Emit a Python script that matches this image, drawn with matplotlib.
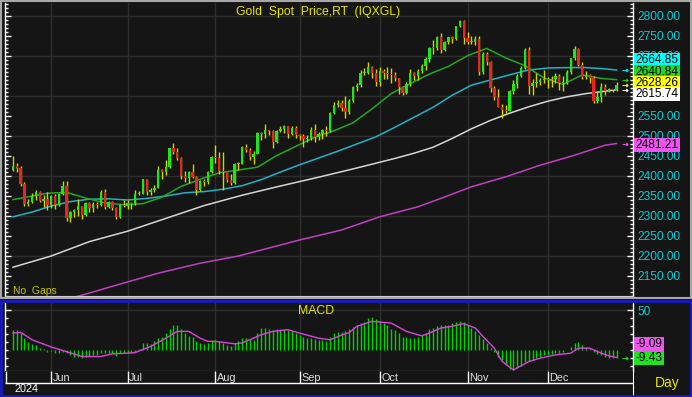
import numpy as np
import pandas as pd
import matplotlib
matplotlib.use("Agg")
import matplotlib.pyplot as plt
from matplotlib.patches import Rectangle
from matplotlib.ticker import MultipleLocator, FixedLocator, FormatStrFormatter

plt.rcParams['font.family'] = ['Liberation Sans', 'DejaVu Sans']

# daily OHLC, gold spot, 20 May 2024 onwards (one bar per weekday)
opens = [
    2415, 2426, 2421, 2379, 2329, 2334, 2351, 2361, 2338, 2343,
    2327, 2350, 2327, 2355, 2376, 2294, 2311, 2316, 2324, 2303,
    2333, 2319, 2330, 2328, 2360, 2322, 2334, 2319, 2298, 2327,
    2326, 2332, 2330, 2356, 2356, 2392, 2359, 2364, 2371, 2414,
    2411, 2422, 2469, 2459, 2445, 2400, 2396, 2409, 2397, 2364,
    2387, 2384, 2411, 2448, 2446, 2412, 2409, 2390, 2382, 2430,
    2431, 2472, 2465, 2447, 2456, 2507, 2504, 2514, 2512, 2485,
    2512, 2518, 2524, 2504, 2520, 2503, 2500, 2493, 2495, 2516,
    2497, 2506, 2516, 2512, 2558, 2578, 2582, 2569, 2559, 2587,
    2622, 2628, 2657, 2657, 2672, 2658, 2634, 2662, 2657, 2656,
    2653, 2644, 2622, 2608, 2630, 2657, 2649, 2662, 2674, 2693,
    2721, 2720, 2748, 2715, 2736, 2747, 2743, 2774, 2788, 2744,
    2736, 2736, 2743, 2659, 2706, 2685, 2619, 2598, 2573, 2566,
    2562, 2612, 2631, 2651, 2670, 2716, 2626, 2633, 2636, 2640,
    2643, 2639, 2643, 2650, 2632, 2633, 2660, 2694, 2718, 2677,
    2648, 2652, 2646, 2587, 2598, 2622, 2612, 2617, 2614]
highs = [
    2450, 2432, 2426, 2385, 2342, 2358, 2364, 2362, 2352, 2361,
    2353, 2355, 2357, 2388, 2388, 2313, 2318, 2342, 2326, 2335,
    2334, 2336, 2334, 2365, 2368, 2338, 2338, 2323, 2331, 2340,
    2339, 2336, 2365, 2363, 2392, 2393, 2369, 2377, 2424, 2418,
    2440, 2469, 2483, 2470, 2448, 2412, 2412, 2431, 2400, 2390,
    2393, 2413, 2451, 2477, 2460, 2461, 2410, 2405, 2432, 2436,
    2475, 2479, 2471, 2463, 2509, 2510, 2531, 2516, 2514, 2516,
    2526, 2528, 2526, 2524, 2526, 2505, 2504, 2503, 2523, 2529,
    2509, 2518, 2525, 2560, 2585, 2590, 2589, 2600, 2593, 2625,
    2632, 2664, 2670, 2685, 2675, 2668, 2673, 2667, 2672, 2670,
    2661, 2646, 2625, 2634, 2668, 2661, 2667, 2680, 2697, 2723,
    2740, 2749, 2758, 2738, 2748, 2749, 2774, 2790, 2790, 2759,
    2750, 2750, 2750, 2711, 2709, 2688, 2626, 2618, 2581, 2578,
    2615, 2639, 2656, 2674, 2721, 2722, 2642, 2657, 2645, 2665,
    2648, 2649, 2657, 2656, 2649, 2666, 2695, 2726, 2721, 2685,
    2662, 2655, 2650, 2610, 2632, 2630, 2620, 2618, 2635]
lows = [
    2412, 2410, 2374, 2326, 2326, 2333, 2339, 2334, 2323, 2315,
    2320, 2317, 2326, 2352, 2287, 2286, 2297, 2299, 2293, 2299,
    2311, 2311, 2321, 2325, 2317, 2320, 2315, 2293, 2294, 2322,
    2318, 2318, 2328, 2352, 2354, 2352, 2352, 2359, 2369, 2393,
    2402, 2419, 2454, 2441, 2392, 2385, 2382, 2394, 2353, 2363,
    2375, 2379, 2408, 2433, 2405, 2364, 2385, 2378, 2381, 2416,
    2430, 2460, 2441, 2431, 2455, 2489, 2495, 2503, 2471, 2483,
    2509, 2507, 2495, 2502, 2494, 2490, 2472, 2484, 2490, 2485,
    2491, 2492, 2500, 2510, 2554, 2573, 2562, 2546, 2555, 2586,
    2613, 2623, 2652, 2654, 2644, 2625, 2624, 2642, 2643, 2633,
    2637, 2604, 2603, 2604, 2624, 2639, 2640, 2658, 2665, 2685,
    2705, 2714, 2708, 2712, 2729, 2732, 2739, 2772, 2730, 2730,
    2731, 2727, 2652, 2656, 2677, 2610, 2589, 2572, 2545, 2557,
    2562, 2605, 2619, 2648, 2667, 2605, 2602, 2622, 2627, 2632,
    2621, 2623, 2632, 2614, 2613, 2630, 2654, 2690, 2676, 2643,
    2643, 2633, 2583, 2583, 2584, 2603, 2610, 2611, 2612]
closes = [
    2426, 2421, 2379, 2329, 2334, 2351, 2361, 2338, 2343, 2327,
    2350, 2327, 2355, 2376, 2294, 2311, 2316, 2324, 2303, 2333,
    2319, 2330, 2328, 2360, 2322, 2334, 2319, 2298, 2327, 2326,
    2332, 2330, 2356, 2356, 2392, 2359, 2364, 2371, 2414, 2411,
    2422, 2469, 2459, 2445, 2400, 2396, 2409, 2397, 2364, 2387,
    2384, 2411, 2448, 2446, 2412, 2409, 2390, 2382, 2430, 2431,
    2472, 2465, 2447, 2456, 2507, 2504, 2514, 2512, 2485, 2512,
    2518, 2524, 2504, 2520, 2503, 2500, 2493, 2495, 2516, 2497,
    2506, 2516, 2512, 2558, 2578, 2582, 2569, 2559, 2587, 2622,
    2628, 2657, 2657, 2672, 2658, 2634, 2662, 2657, 2656, 2653,
    2644, 2622, 2608, 2630, 2657, 2649, 2662, 2674, 2693, 2721,
    2720, 2748, 2715, 2736, 2747, 2743, 2774, 2788, 2744, 2736,
    2736, 2743, 2659, 2706, 2685, 2619, 2598, 2573, 2566, 2562,
    2612, 2631, 2651, 2670, 2716, 2626, 2633, 2636, 2640, 2643,
    2639, 2643, 2650, 2632, 2633, 2660, 2694, 2718, 2677, 2648,
    2652, 2646, 2587, 2598, 2622, 2612, 2617, 2614, 2628.26]

# moving averages (bar index, value)
ma20_idx = [0, 4, 9, 14, 19, 24, 29, 34, 39, 44, 49, 54, 59, 64, 69, 74, 79,
            84, 89, 94, 99, 104, 109, 114, 119, 124, 129, 134, 139, 144, 149,
            154, 158]
ma20_val = [2341, 2348, 2357, 2359, 2345, 2333, 2328, 2331, 2347, 2374, 2392,
            2408, 2415, 2422, 2451, 2474, 2497, 2513, 2533, 2568, 2606, 2631,
            2655, 2674, 2701, 2719, 2695, 2676, 2645, 2629, 2653, 2644, 2640.84]
ma50_idx = [0, 5, 10, 15, 20, 25, 30, 35, 40, 45, 50, 55, 60, 65, 70, 75, 80,
            85, 90, 95, 100, 105, 110, 115, 120, 125, 130, 135, 140, 145, 150,
            155, 158]
ma50_val = [2298, 2310, 2325, 2336, 2342, 2343, 2340, 2344, 2350, 2358, 2361,
            2367, 2376, 2391, 2410, 2428, 2445, 2462, 2480, 2498, 2522, 2547,
            2572, 2602, 2627, 2640, 2653, 2665, 2670, 2671, 2671, 2668, 2664.85]
ma100_idx = [0, 10, 20, 30, 40, 50, 60, 70, 80, 90, 100, 105, 110, 115, 120,
             125, 130, 135, 140, 145, 150, 155, 158]
ma100_val = [2172, 2200, 2236, 2262, 2294, 2326, 2352, 2375, 2397, 2420, 2444,
             2457, 2472, 2494, 2518, 2539, 2557, 2573, 2587, 2598, 2606, 2612,
             2615.74]
ma200_idx = [10, 18, 27, 38, 49, 59, 65, 75, 86, 96, 106, 112, 120, 129, 138,
             147, 155, 158]
ma200_val = [2082, 2102, 2127, 2157, 2182, 2200, 2215, 2240, 2265, 2298, 2323,
             2344, 2373, 2398, 2427, 2452, 2477, 2481.21]

# MACD histogram, one value per bar
macd = [
    25, 25, 21, 15, 10, 8, 7, 3, 1, -2,
    -1, -4, -3, -2, -4, -6, -8, -9, -10, -8,
    -7, -6, -6, -3, -4, -4, -4, -7, -4, -4,
    -4, -4, -2, 1, 9, 9, 8, 11, 15, 17,
    21, 27, 31, 31, 26, 22, 18, 17, 12, 9,
    8, 9, 13, 13, 11, 9, 7, 5, 9, 11,
    15, 15, 14, 13, 22, 28, 28, 26, 25, 26,
    27, 26, 25, 24, 22, 19, 17, 15, 15, 14,
    13, 13, 12, 17, 22, 23, 23, 24, 26, 29,
    32, 34, 36, 40, 42, 39, 37, 34, 31, 27,
    25, 21, 17, 17, 15, 15, 16, 19, 22, 26,
    28, 30, 31, 31, 32, 34, 35, 37, 35, 32,
    28, 24, 19, 14, 9, 3, -2, -8, -13, -19,
    -24, -25, -23, -20, -15, -14, -12, -10, -8, -6,
    -6, -5, -4, -3, -2, 0, 4, 9, 10, 7,
    4, 1, -2, -5, -6, -8, -10, -10, -9.43]
# signal line (bar index, value)
sig_idx = [0, 2, 5, 10, 13, 18, 23, 26, 30, 32, 36, 40, 43, 46, 49, 51, 53,
           58, 60, 65, 68, 72, 75, 80, 83, 86, 88, 90, 94, 99, 103, 107, 109,
           112, 115, 118, 121, 123, 126, 128, 131, 135, 138, 142, 146, 148,
           151, 154, 156, 158]
sig_val = [21.5, 22.3, 13, 4, -0.4, -8, -8, -4.6, -3.8, -3, 4.6, 15, 23.6,
           23.6, 15, 11, 11, 8, 9, 19.4, 23.6, 25.7, 21.5, 15, 13, 19, 22,
           29.9, 36.2, 34, 23.6, 18, 21.5, 27.8, 30, 33.3, 27.8, 17.3, 2.5,
           -14, -24.9, -14.4, -10.1, -5.9, -3.8, 2.5, 2.5, -3.8, -7.2, -9.09]

# right-axis price labels that stay uncovered by the value tags
price_labels = [2150, 2200, 2250, 2300, 2350, 2400, 2450, 2500, 2550, 2700,
                2750, 2800]

N = len(closes)
dates = pd.bdate_range("2024-05-20", periods=N)
idx = np.arange(N)
o = np.array(opens, dtype=float)
h = np.array(highs, dtype=float)
l = np.array(lows, dtype=float)
c = np.array(closes, dtype=float)

month_starts = [i for i in range(1, N) if dates[i].month != dates[i - 1].month]

BG = '#151515'
GRID = '#2e2e2e'
W, H = 692, 397
ARROW = r'$\rightarrow$'


def box(x0, y0, x1, y1):
    # pixel box -> figure fraction
    return [x0 / W, 1 - y1 / H, (x1 - x0) / W, (y1 - y0) / H]


fig = plt.figure(figsize=(W / 100, H / 100), dpi=100, facecolor=BG)
ax = fig.add_axes(box(5, 3, 633, 296), facecolor=BG)
axm = fig.add_axes(box(5, 302.5, 633, 371), facecolor=BG, sharex=ax)
axl = fig.add_axes(box(5, 371, 633, 395), facecolor=BG, sharex=ax)

xlo, xhi = -2.1, 162.3
ax.set_xlim(xlo, xhi)
ax.set_ylim(2100, 2832.5)

# grid
ax.hlines(np.arange(2200, 2801, 100), xlo, xhi, color=GRID, lw=1, zorder=0)
for a in (ax, axm):
    a.vlines(month_starts, -1e4, 1e4, color=GRID, lw=1, zorder=0)

# moving averages
ax.plot(ma200_idx, ma200_val, color='#c23fc2', lw=1.1, zorder=2)
ax.plot(ma100_idx, ma100_val, color='#d6d6d6', lw=1.1, zorder=2)
ax.plot(ma50_idx, ma50_val, color='#1fb4c4', lw=1.1, zorder=2)
ax.plot(ma20_idx, ma20_val, color='#22a822', lw=1.1, zorder=2)

# candles
up = c >= o
ax.vlines(idx, l, h, color='#d4d400', lw=1, zorder=3)
body_lo = np.minimum(o, c)
body_h = np.maximum(np.abs(c - o), 2.0)
ax.bar(idx[up], body_h[up], bottom=body_lo[up], width=0.62,
       color='#1ee61e', lw=0, zorder=4)
ax.bar(idx[~up], body_h[~up], bottom=body_lo[~up], width=0.62,
       color='#ee2222', lw=0, zorder=4)

# axes cosmetics
for a in (ax, axm):
    a.spines['top'].set_visible(False)
    for s in ('left', 'right'):
        a.spines[s].set_color('white')
        a.spines[s].set_linewidth(1)
    a.spines['bottom'].set_color('#d0d0d0')
    a.tick_params(axis='x', bottom=False, labelbottom=False)
    a.tick_params(axis='y', which='both', direction='in', left=True,
                  right=True, labelleft=False, labelright=True,
                  color='white', width=1)
    a.tick_params(axis='y', which='major', length=4, pad=3,
                  labelcolor='#00d0d8', labelsize=8.6)
    a.tick_params(axis='y', which='minor', length=2)

ax.yaxis.set_major_locator(FixedLocator(price_labels))
ax.yaxis.set_minor_locator(MultipleLocator(10))
ax.yaxis.set_major_formatter(FormatStrFormatter('%.2f'))

ax.text(0.498, 0.969, 'Gold  Spot  Price,RT  (IQXGL)', transform=ax.transAxes,
        color='#e6e600', fontsize=8.8, ha='center', va='center')
ax.text(0.013, 0.018, 'No  Gaps', transform=ax.transAxes, color='#c8c800',
        fontsize=7.5, ha='left', va='center')

# last-value tags
tags = [(2664.85, '#00ffff', 2689.0),
        (2640.84, '#22d822', 2659.5),
        (2628.26, '#ffff00', 2632.5),
        (2615.74, '#ffffff', 2604.5),
        (2481.21, '#ee55ee', 2478.0)]
for val, col, ty in tags:
    ax.plot([160.3], [val], marker=ARROW, color=col, markersize=4,
            markeredgewidth=0.3, ls='none', zorder=6)
    ax.text(1.004, ty, f'{val:.2f}', transform=ax.get_yaxis_transform(),
            ha='left', va='center', fontsize=8.6, color='black', clip_on=False,
            zorder=10, bbox=dict(boxstyle='square,pad=0.1', fc=col, ec='none'))

# MACD panel
axm.set_ylim(-26.2, 59.9)
axm.hlines([50], xlo, xhi, color=GRID, lw=1, zorder=0)
axm.vlines(idx, 0, macd, color='#00d400', lw=1, zorder=2)
axm.plot(sig_idx, sig_val, color='#e040e0', lw=1, zorder=3)
axm.yaxis.set_major_locator(FixedLocator([50]))
axm.yaxis.set_minor_locator(MultipleLocator(10))
axm.text(0.495, 0.875, 'MACD', transform=axm.transAxes, color='#e6e600',
         fontsize=8.8, ha='center', va='center')
macd_tags = [(-9.09, '#ee55ee', 7.3, False),
             (-9.43, '#22e022', -9.7, True)]
for val, col, ty, arrow in macd_tags:
    if arrow:
        axm.plot([160.3], [ty], marker=ARROW, color=col, markersize=4,
                 markeredgewidth=0.3, ls='none', zorder=6)
    axm.text(1.004, ty, f'{val:.2f}', transform=axm.get_yaxis_transform(),
             ha='left', va='center', fontsize=8.6, color='black', clip_on=False,
             zorder=10, bbox=dict(boxstyle='square,pad=0.1', fc=col, ec='none'))

# date rows
axl.set_ylim(0, 2)
for s in ('top', 'bottom', 'left'):
    axl.spines[s].set_visible(False)
axl.spines['right'].set_color('white')
axl.tick_params(left=False, bottom=False, labelleft=False, labelbottom=False)
axl.hlines(1, xlo, xhi, color='white', lw=1)
axl.vlines(month_starts + [xlo + 0.15], 1, 2, color='white', lw=1)
for m in month_starts:
    axl.text(m + 0.4, 1.38, dates[m].strftime('%b'), color='#e0e0e0',
             fontsize=7.8, ha='left', va='center')
axl.text(0.5, 0.5, str(dates[0].year), color='white', fontsize=7.8,
         ha='left', va='center')
fig.text(667 / W, 1 - 383 / H, 'Day', color='#e6e600', fontsize=10,
         ha='center', va='center')

# panel frames
fig.patches.append(Rectangle((0.5 / W, 1 - 298 / H), 690.5 / W, 297.5 / H,
                             transform=fig.transFigure, fill=False,
                             ec='#a8a8a8', lw=1.5))
fig.patches.append(Rectangle((0.5 / W, 1.5 / H), 690.5 / W, (396 - 301.5) / H,
                             transform=fig.transFigure, fill=False,
                             ec='#1818c8', lw=2))

fig.savefig('out.png', dpi=100, facecolor=BG)
